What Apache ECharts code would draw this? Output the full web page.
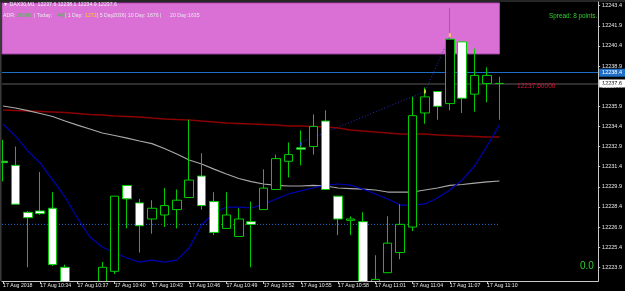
<!DOCTYPE html>
<html><head><meta charset="utf-8">
<script src="https://cdn.jsdelivr.net/npm/echarts@6/dist/echarts.min.js"></script>
<style>html,body{margin:0;padding:0;background:#000;}#c{width:625px;height:291px;}</style>
</head><body><div id="c"></div>
<script>
// ---- data (DAX30, M1, 17 Aug 2018) ----
const times = ['10:31','10:32','10:33','10:34','10:35','10:36','10:37','10:38','10:39','10:40',
  '10:41','10:42','10:43','10:44','10:45','10:46','10:47','10:48','10:49','10:50',
  '10:51','10:52','10:53','10:54','10:55','10:56','10:57','10:58','10:59','11:00',
  '11:01','11:02','11:03','11:04','11:05','11:06','11:07','11:08','11:09','11:10','11:11'];
const opens  = [12231.8,12231.5,12228.0,12228.1,12228.3,12223.9,12221.5,12220.8,12221.6,12223.6,
  12230.0,12228.7,12227.5,12227.8,12228.2,12229.1,12230.7,12228.8,12226.8,12226.2,
  12227.3,12228.2,12229.7,12231.8,12232.8,12232.9,12234.8,12229.2,12227.4,12227.3,
  12222.2,12223.5,12225.0,12226.9,12235.4,12237.0,12236.1,12240.7,12236.8,12237.6,12237.6];
const closes = [12231.7,12228.6,12227.6,12227.9,12224.1,12221.6,12220.9,12221.4,12223.9,12229.2,
  12229.0,12227.0,12228.3,12228.5,12228.9,12230.4,12228.5,12226.5,12227.8,12227.5,
  12227.1,12229.8,12232.0,12232.3,12232.7,12234.4,12229.7,12227.5,12227.5,12221.9,
  12223.0,12225.7,12227.1,12235.2,12236.6,12235.9,12240.9,12236.5,12238.2,12238.2,12237.6];
const lows   = [12230.3,12228.6,12223.9,12227.8,12224.0,12221.2,12220.3,12220.4,12221.3,12223.4,
  12226.8,12225.0,12226.4,12226.9,12226.8,12229.1,12228.2,12226.3,12226.8,12226.2,
  12223.9,12228.2,12229.7,12230.6,12231.5,12232.3,12229.7,12226.3,12226.3,12221.5,
  12221.9,12223.5,12224.5,12226.6,12234.6,12234.9,12235.6,12235.4,12235.5,12236.2,12234.9];
const highs  = [12233.4,12232.9,12228.1,12231.0,12229.5,12224.1,12222.4,12222.3,12224.3,12229.2,
  12230.0,12229.0,12228.9,12229.8,12229.7,12234.9,12232.4,12229.5,12229.5,12228.3,
  12228.8,12231.2,12232.3,12233.2,12234.1,12235.3,12235.6,12229.2,12227.7,12228.0,
  12224.8,12227.7,12228.6,12236.6,12237.3,12237.0,12243.2,12240.7,12240.2,12238.8,12238.1];
const maRed  = [12235.62,12235.58,12235.55,12235.51,12235.47,12235.43,12235.36,12235.29,12235.25,12235.17,
  12235.14,12235.10,12235.02,12234.95,12234.91,12234.88,12234.80,12234.73,12234.65,12234.62,
  12234.58,12234.54,12234.50,12234.43,12234.43,12234.39,12234.35,12234.28,12234.13,12234.06,
  12233.98,12233.91,12233.83,12233.83,12233.83,12233.76,12233.72,12233.68,12233.65,12233.61,12233.61];
const maGrey = [12235.92,12235.77,12235.58,12235.36,12235.14,12234.80,12234.50,12234.21,12233.91,12233.72,
  12233.53,12233.31,12233.12,12232.75,12232.34,12231.90,12231.60,12231.22,12230.85,12230.52,
  12230.29,12230.11,12230.00,12229.96,12229.96,12230.00,12229.96,12229.81,12229.77,12229.73,
  12229.66,12229.51,12229.51,12229.51,12229.66,12229.81,12230.00,12230.07,12230.18,12230.26,12230.33];
const maBlue = [12234.58,12233.68,12232.57,12231.67,12230.41,12229.14,12227.57,12226.16,12225.41,12224.97,
  12224.59,12224.29,12224.44,12224.29,12224.44,12225.34,12227.05,12227.95,12228.39,12228.39,
  12228.32,12228.62,12228.99,12229.36,12229.59,12229.81,12230.03,12230.11,12230.03,12229.73,
  12229.36,12228.99,12228.54,12228.54,12228.62,12229.06,12229.66,12230.41,12231.45,12232.94,12234.50];
const yTicks = [12223.9,12225.4,12226.9,12228.4,12229.9,12231.4,12232.9,12234.4,12235.9,12237.4,12238.9,12240.4,12241.9,12243.4];
const xTickIdx = [0,3,6,9,12,15,18,21,24,27,30,33,36,39];
const xTickLabels = ['17 Aug 2018','17 Aug 10:34','17 Aug 10:37','17 Aug 10:40','17 Aug 10:43','17 Aug 10:46','17 Aug 10:49',
  '17 Aug 10:52','17 Aug 10:55','17 Aug 10:58','17 Aug 11:01','17 Aug 11:04','17 Aug 11:07','17 Aug 11:10'];
const askPrice = 12238.4;
const bidPrice = 12237.6;
const dottedLevel = 12227.1;
const boxBottom = 12239.8;
const zigzagIdx = [24,34,36];
const zigzagVal = [12233.2,12237.0,12241.1];
const markIdx = [24,34,36];
const markVal = [12233.1,12237.0,12241.2];
const markColors = ['#3050ff','#ffe040','#ffe040'];
const headerLine = '\u25BC DAX30,M1  12237.6 12238.1 12234.9 12237.6';
const adrParts = [['ADR:',3,'#e8e8e8'],['26.9%',17,'#32cd32'],['| Today:',34,'#e8e8e8'],['445',57,'#32cd32'],
  ['| 1 Day:',65,'#e8e8e8'],['1272',85,'#ffc83c'],['| 5 Day:',97,'#e8e8e8'],['2036',113,'#e8e8e8'],
  ['| 10 Day:',125,'#e8e8e8'],['1676',147,'#e8e8e8'],['|',160,'#e8e8e8'],['20 Day:',170,'#e8e8e8'],['1635',188,'#e8e8e8']];

// ---- chart ----
const FONT = '"Liberation Sans", Arial, sans-serif';
const X_MIN = -0.08, X_MAX = 47.95, Y_MIN = 12222.88, Y_MAX = 12243.67;
const chart = echarts.init(document.getElementById('c'), null, {renderer:'canvas'});
const idxData = arr => arr.map((v,i)=>[i,v]);
const candleData = times.map((t,i)=>[i, opens[i], closes[i], lows[i], highs[i]]);

const graphics = [
  {type:'rect', shape:{x:0,y:0,width:625,height:2}, style:{fill:'#262626'}, z:100},
  {type:'rect', shape:{x:0,y:2,width:1.5,height:279}, style:{fill:'#3a3a3a'}, z:100},
  // mask below the plot area (candles that run past the bottom edge)
  {type:'rect', shape:{x:0,y:281.5,width:625,height:10}, style:{fill:'#000000'}, z:120},
  {type:'text', x:3, y:5, style:{text:headerLine, fill:'#f0f0f0', font:'5.2px '+FONT, verticalAlign:'middle'}, z:100},
  {type:'text', x:549, y:16, style:{text:'Spread: 8 points.', fill:'#32cd32', font:'6.4px '+FONT, verticalAlign:'middle'}, z:100},
  {type:'text', x:517, y:86, style:{text:'12237.60000', fill:'#dc143c', font:'6.6px '+FONT, verticalAlign:'middle'}, z:100},
  {type:'text', x:580, y:266, style:{text:'0.0', fill:'#32cd32', font:'10px '+FONT, verticalAlign:'middle'}, z:100}
];
adrParts.forEach(p => graphics.push({type:'text', x:p[1], y:16,
  style:{text:p[0], fill:p[2], font:'5.2px '+FONT, verticalAlign:'middle'}, z:100}));

const option = {
  animation:false,
  backgroundColor:'#000',
  graphic: graphics,
  grid:{left:0, right:24, top:2, bottom:10},
  xAxis:{type:'value', min:X_MIN, max:X_MAX, splitLine:{show:false}, z:150,
    axisLine:{onZero:false, lineStyle:{color:'#c8c8c8', width:1}},
    axisTick:{show:true, customValues:xTickIdx, length:3, lineStyle:{color:'#c8c8c8'}},
    axisLabel:{customValues:xTickIdx, formatter:v=>xTickLabels[xTickIdx.indexOf(v)], align:'left',
      margin:2, color:'#e8e8e8', fontSize:5.2, fontFamily:FONT}},
  yAxis:{type:'value', position:'right', min:Y_MIN, max:Y_MAX, splitLine:{show:false}, z:150,
    axisLine:{show:true, onZero:false, lineStyle:{color:'#c8c8c8', width:1}},
    axisTick:{show:true, customValues:yTicks, length:2, lineStyle:{color:'#c8c8c8'}},
    axisLabel:{customValues:yTicks, formatter:v=>v.toFixed(1), margin:4, color:'#e8e8e8', fontSize:5.5, fontFamily:FONT}},
  series:[
    {type:'line', name:'MA red', data:idxData(maRed), showSymbol:false, z:2, emphasis:{disabled:true},
      lineStyle:{color:'#8b0000', width:1.5},
      markArea:{silent:true, z:1, itemStyle:{color:'#da70d6', opacity:1, borderColor:'#b048b0', borderWidth:1},
        data:[[{coord:[X_MIN, Y_MAX-0.07]},{coord:[40, boxBottom]}]]},
      markLine:{silent:true, symbol:['none','none'], z:2, animation:false, data:[
        {yAxis:askPrice, lineStyle:{color:'#1e6ec8', width:1, type:'solid'},
          label:{show:true, position:'end', distance:1, formatter:askPrice.toFixed(1), backgroundColor:'#1e6ec8',
            color:'#ffffff', fontSize:5.5, fontFamily:FONT, padding:[1,3]}},
        {yAxis:bidPrice, lineStyle:{color:'#3c3c3c', width:1.5, type:'solid'},
          label:{show:true, position:'end', distance:1, formatter:bidPrice.toFixed(1), backgroundColor:'#ffffff',
            color:'#000000', fontSize:5.5, fontFamily:FONT, padding:[1,3]}}
      ]}},
    {type:'line', name:'MA grey', data:idxData(maGrey), showSymbol:false, z:2, emphasis:{disabled:true},
      lineStyle:{color:'#a8a8a8', width:1.2}},
    {type:'line', name:'MA blue', data:idxData(maBlue), showSymbol:false, z:2, emphasis:{disabled:true},
      lineStyle:{color:'#0000b4', width:1.2}},
    {type:'line', name:'level', data:[[X_MIN, dottedLevel],[40, dottedLevel]], showSymbol:false, z:2, emphasis:{disabled:true},
      lineStyle:{color:'#1f78d2', width:1, type:[1,2]}},
    {type:'line', name:'zigzag', data:zigzagIdx.map((x,i)=>[x, zigzagVal[i]]), showSymbol:false, z:2, emphasis:{disabled:true},
      lineStyle:{color:'#2030b8', width:1, type:[1,2]}},
    {type:'candlestick', name:'DAX30', data:candleData, encode:{x:0, y:[1,2,3,4]}, z:3, barWidth:9, clip:true,
      emphasis:{disabled:true},
      itemStyle:{color:'#000000', color0:'#ffffff', borderColor:'#00cc00', borderColor0:'#00cc00', borderWidth:1}},
    {type:'scatter', name:'marks', data:markIdx.map((x,i)=>({value:[x, markVal[i]], itemStyle:{color:markColors[i]}})),
      symbol:'rect', symbolSize:[2,4], z:4, emphasis:{disabled:true}}
  ]
};
chart.setOption(option);
</script>
</body></html>
